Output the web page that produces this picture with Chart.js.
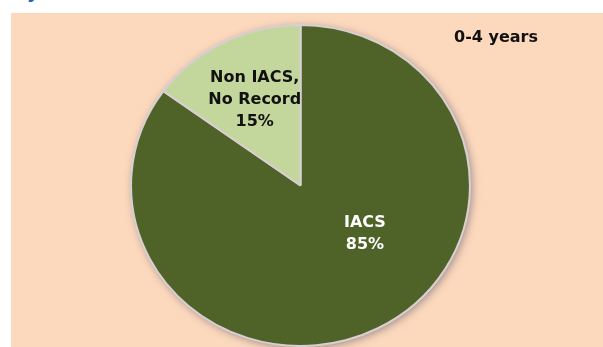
<!DOCTYPE html>
<html>
<head>
<meta charset="utf-8">
<script src="https://cdn.jsdelivr.net/npm/chart.js@4"></script>
<style>
  body { margin: 0; background: #fff; overflow: hidden; }
  #wrap { position: relative; width: 603px; height: 347px; }
  #cut { position: absolute; left: 14px; top: -17px; font: bold 18px "DejaVu Sans"; color: #1f5fb4; line-height: 18px; white-space: nowrap; }
  canvas { position: absolute; left: 0; top: 0; }
</style>
</head>
<body>
<div id="wrap">
  <div id="cut">by Class</div>
  <canvas id="chart1" width="603" height="347"></canvas>
</div>
<script>
// pie data
const categories = ['IACS', 'Non IACS, No Record']
const labelLines = [['IACS'], ['Non IACS,', 'No Record']]
const shares = [85, 15]
const panelTitle = '0-4 years'

const colors = ['#4f6228', '#c3d69b']
const textColors = ['#ffffff', '#111111']
// label spots, in radii from the pie centre
const labelSpots = [[0.38, 0.30], [-0.27, -0.535]]
const stretchX = 1.056   // the source pie is slightly wider than tall

// peach panel + soft shadow under the pie, labels on top
const piePanel = {
  id: 'piePanel',
  beforeDraw(chart) {
    const c = chart.ctx
    c.save()
    c.fillStyle = '#fcd9bd'
    c.fillRect(11, 13, chart.width - 11, chart.height - 13)
    c.restore()
  },
  beforeDatasetsDraw(chart) {
    const arc = chart.getDatasetMeta(0).data[0]
    const c = chart.ctx
    c.save()
    c.shadowColor = 'rgba(90, 80, 95, 0.6)'
    c.shadowBlur = 8
    c.shadowOffsetX = 2
    c.shadowOffsetY = 2
    c.fillStyle = colors[0]
    c.beginPath()
    c.ellipse(arc.x, arc.y, arc.outerRadius * stretchX, arc.outerRadius, 0, 0, Math.PI * 2)
    c.fill()
    c.restore()
    c.save()
    c.translate(arc.x, arc.y)
    c.scale(stretchX, 1)
    c.translate(-arc.x, -arc.y)
  },
  afterDatasetsDraw(chart) {
    chart.ctx.restore()
  },
  afterDraw(chart) {
    const c = chart.ctx
    const arcs = chart.getDatasetMeta(0).data
    c.save()
    c.textAlign = 'center'
    c.textBaseline = 'middle'
    c.font = 'bold 16px "DejaVu Sans"'
    arcs.forEach((arc, i) => {
      const r = arc.outerRadius
      const lx = arc.x + labelSpots[i][0] * r * stretchX
      const ly = arc.y + labelSpots[i][1] * r
      const lines = labelLines[i].concat([shares[i] + '%'])
      const lh = 22
      c.fillStyle = textColors[i]
      lines.forEach((t, k) => {
        c.fillText(t, lx, ly + (k - (lines.length - 1) / 2) * lh)
      })
    })
    c.font = 'bold 16px "DejaVu Sans"'
    c.fillStyle = '#111111'
    c.fillText(panelTitle, 496, 38)
    c.restore()
  }
}

const ctx = document.getElementById('chart1').getContext('2d')
new Chart(ctx, {
  type: 'pie',
  data: {
    labels: categories,
    datasets: [{
      data: shares,
      backgroundColor: colors,
      borderColor: '#d8cfd2',
      borderWidth: 2
    }]
  },
  options: {
    responsive: false,
    animation: false,
    layout: { padding: { top: 24, bottom: 0, left: 0, right: 2 } },
    plugins: {
      legend: { display: false },
      tooltip: { enabled: false }
    }
  },
  plugins: [piePanel]
})
</script>
</body>
</html>
